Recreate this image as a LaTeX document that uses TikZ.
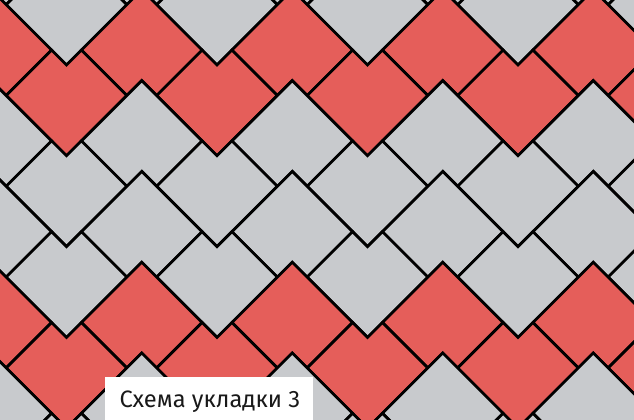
\documentclass[tikz,border=0pt]{standalone}
\usepackage{fontspec}
\setsansfont{Fira Sans}
\definecolor{tilegray}{RGB}{200,202,205}
\definecolor{tilered}{RGB}{229,94,90}
\definecolor{labeltext}{RGB}{25,25,25}
\tikzset{
  tile/.style={line width=2.7bp, draw=black, line join=miter},
  labelbox/.style={fill=white, minimum width=208bp, minimum height=46bp, inner sep=0pt, anchor=north west},
  labeltxt/.style={font=\sffamily\fontsize{23.8}{24}\selectfont, text=labeltext, anchor=base, inner sep=0pt}
}
\begin{document}
\begin{tikzpicture}[x=1bp,y=-1bp]
\useasboundingbox (0,0) rectangle (634,419);
\begin{scope}
\clip (0,0) rectangle (634,419);
\fill[tilegray] (0,0) rectangle (634,419);
\def\Rad{60.3}
\def\Bst{45.4}
\def\Cn{14.9}
\foreach \j in {-1,...,10}{
  \pgfmathtruncatemacro{\m}{mod(\j+60,6)}
  \pgfmathtruncatemacro{\odd}{mod(\j+60,2)}
  \pgfmathsetmacro{\cy}{4.7+45.4*\j}
  \pgfmathsetmacro{\xo}{66.5+75.25*\odd}
  \ifnum\m=1 \def\tc{tilered}\else\ifnum\m=2 \def\tc{tilered}\else\def\tc{tilegray}\fi\fi
  \foreach \k in {-1,...,4}{
    \pgfmathsetmacro{\cx}{\xo+150.5*\k}
    \ifnum\odd=1
      \filldraw[tile, fill=\tc] (\cx,\cy-\Rad) -- (\cx+\Rad,\cy) -- (\cx+\Cn,\cy+\Bst) -- (\cx,\cy+\Bst-\Cn) -- (\cx-\Cn,\cy+\Bst) -- (\cx-\Rad,\cy) -- cycle;
    \else
      \filldraw[tile, fill=\tc] (\cx,\cy+\Rad) -- (\cx+\Rad,\cy) -- (\cx+\Cn,\cy-\Bst) -- (\cx,\cy-\Bst+\Cn) -- (\cx-\Cn,\cy-\Bst) -- (\cx-\Rad,\cy) -- cycle;
    \fi
  }
}
\node[labelbox] (box) at (105,377) {};
\node[labeltxt] (label) at (210,407) {Схема укладки 3};
\end{scope}
\end{tikzpicture}
\end{document}
